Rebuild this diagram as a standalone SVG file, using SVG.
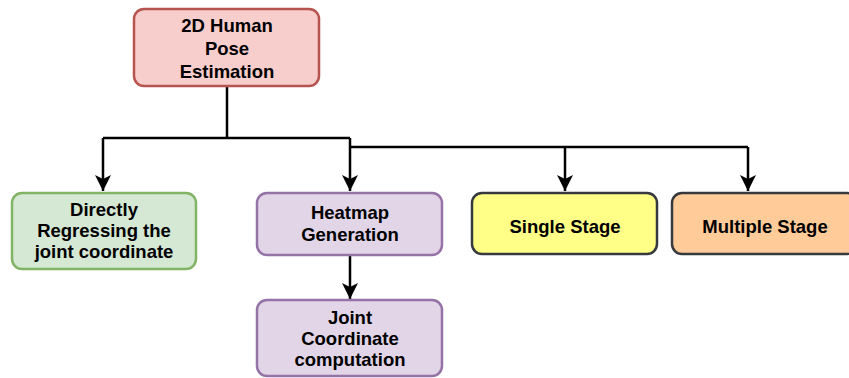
<svg xmlns="http://www.w3.org/2000/svg" width="849" height="378" viewBox="0 0 849 378">
<style>
.box{stroke-width:2.5}
.t{font-family:"Liberation Sans",Arial,sans-serif;font-weight:bold;font-size:18.5px;fill:#000;text-anchor:middle}
.c{fill:none;stroke:#000;stroke-width:2.5}
</style>
<defs>
<marker id="arr" markerUnits="userSpaceOnUse" markerWidth="18" markerHeight="18" refX="16" refY="8" orient="auto">
<path d="M0,0 L16,8 L0,16 L4,8 Z" fill="#000"/>
</marker>
</defs>
<rect width="849" height="378" fill="#fff"/>
<g id="connectors">
<path class="c" d="M227,86 V138"/>
<path class="c" d="M103,138 H350"/>
<path class="c" d="M103,138 V191" marker-end="url(#arr)"/>
<path class="c" d="M350,138 V191" marker-end="url(#arr)"/>
<path class="c" d="M350,147 H748"/>
<path class="c" d="M565,147 V191" marker-end="url(#arr)"/>
<path class="c" d="M748,147 V191" marker-end="url(#arr)"/>
<path class="c" d="M350,255 V299" marker-end="url(#arr)"/>
</g>
<g id="root">
<rect class="box" x="134" y="9" width="185" height="77" rx="10" fill="#f8cecc" stroke="#b85450"/>
<text class="t" x="227" y="32">2D Human</text>
<text class="t" x="227" y="55">Pose</text>
<text class="t" x="227" y="78">Estimation</text>
</g>
<g id="direct">
<rect class="box" x="12" y="193" width="184" height="76" rx="10" fill="#d5e8d4" stroke="#82b366"/>
<text class="t" x="104" y="216">Directly</text>
<text class="t" x="104" y="237">Regressing the</text>
<text class="t" x="104" y="258">joint coordinate</text>
</g>
<g id="heatmap">
<rect class="box" x="257" y="193" width="185" height="62" rx="10" fill="#e1d5e7" stroke="#9673a6"/>
<text class="t" x="350" y="219">Heatmap</text>
<text class="t" x="350" y="241">Generation</text>
</g>
<g id="joint">
<rect class="box" x="257" y="300" width="185" height="76" rx="10" fill="#e1d5e7" stroke="#9673a6"/>
<text class="t" x="350" y="324">Joint</text>
<text class="t" x="350" y="345">Coordinate</text>
<text class="t" x="350" y="366">computation</text>
</g>
<g id="single">
<rect class="box" x="472" y="193" width="185" height="61" rx="10" fill="#ffff88" stroke="#36393d"/>
<text class="t" x="565" y="233">Single Stage</text>
</g>
<g id="multiple">
<rect class="box" x="672" y="193" width="185" height="61" rx="10" fill="#ffcc99" stroke="#36393d"/>
<text class="t" x="765" y="233">Multiple Stage</text>
</g>
</svg>
